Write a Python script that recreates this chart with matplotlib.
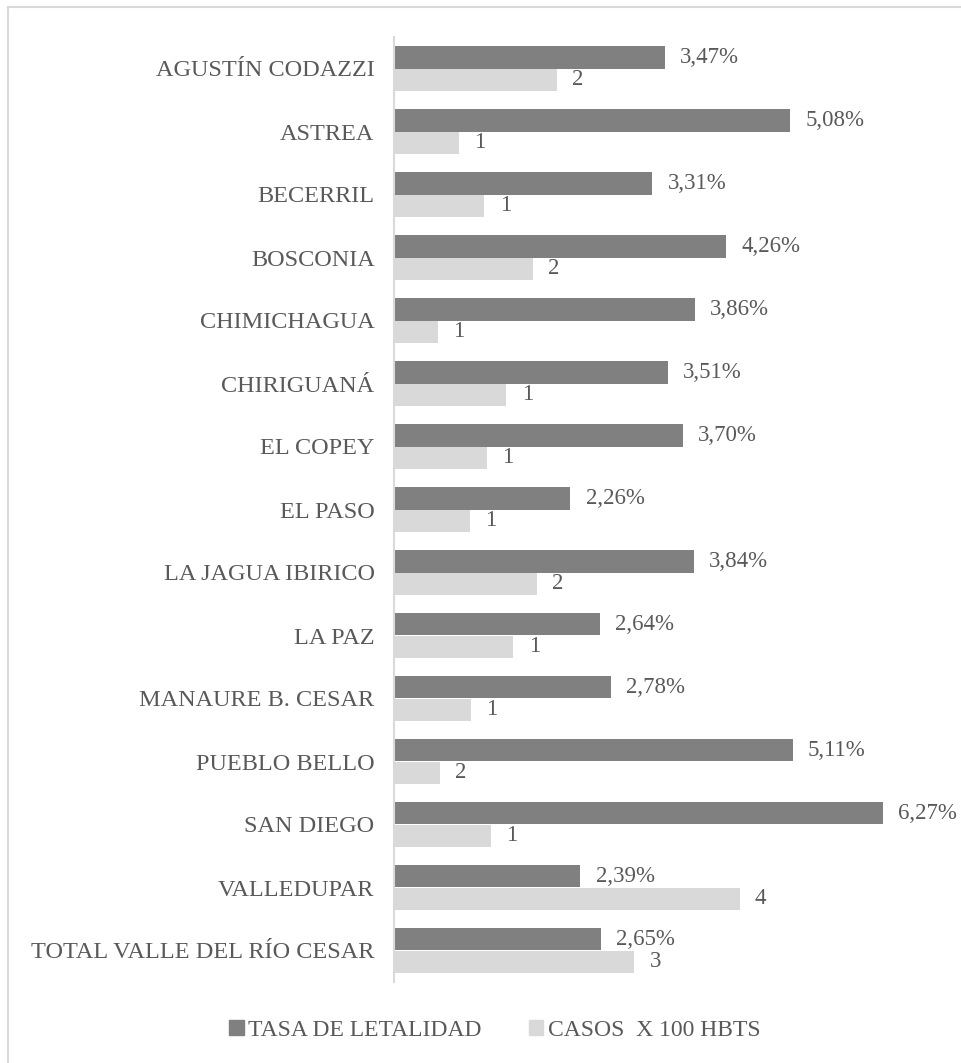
import matplotlib
matplotlib.use('Agg')
import matplotlib.pyplot as plt
from matplotlib.patches import Patch
import numpy as np

plt.rcParams['font.family'] = ['Liberation Serif', 'DejaVu Serif']

municipios = ['AGUSTÍN CODAZZI', 'ASTREA', 'BECERRIL', 'BOSCONIA', 'CHIMICHAGUA',
              'CHIRIGUANÁ', 'EL COPEY', 'EL PASO', 'LA JAGUA IBIRICO', 'LA PAZ',
              'MANAURE B. CESAR', 'PUEBLO BELLO', 'SAN DIEGO', 'VALLEDUPAR',
              'TOTAL VALLE DEL RÍO CESAR']

tasa = [3.47, 5.08, 3.31, 4.26, 3.86, 3.51, 3.70, 2.26, 3.84, 2.64, 2.78, 5.11, 6.27, 2.39, 2.65]
tasa_labels = ['3,47%', '5,08%', '3,31%', '4,26%', '3,86%', '3,51%', '3,70%', '2,26%',
               '3,84%', '2,64%', '2,78%', '5,11%', '6,27%', '2,39%', '2,65%']

casos = [2.09, 0.83, 1.16, 1.78, 0.56, 1.44, 1.19, 0.97, 1.83, 1.53, 0.99, 0.59, 1.24, 4.43, 3.08]
casos_labels = ['2', '1', '1', '2', '1', '1', '1', '1', '2', '1', '1', '2', '1', '4', '3']

dark = '#808080'
light = '#D9D9D9'
txt = '#595959'
W, H = 961, 1063

fig = plt.figure(figsize=(W / 100, H / 100), dpi=100)

# outer chart frame (left + top edges visible)
fig.add_artist(plt.Line2D([8 / W, 8 / W], [0, 1 - 7 / H], color=light, lw=1.5))
fig.add_artist(plt.Line2D([8 / W, 1], [1 - 7 / H, 1 - 7 / H], color=light, lw=1.5))

ax = fig.add_axes([394 / W, 1 - 982 / H, (940 - 394) / W, (982 - 37) / H])

y = np.arange(len(municipios))
h = 0.35
ax.barh(y - h / 2, tasa, height=h, color=dark, label='TASA DE LETALIDAD')
ax.barh(y + h / 2, casos, height=h, color=light, label='CASOS  X 100 HBTS')

for i in range(len(municipios)):
    ax.annotate(tasa_labels[i], (tasa[i], y[i] - h / 2), xytext=(11, 0),
                textcoords='offset points', va='center', ha='left',
                fontsize=16.5, color=txt)
    ax.annotate(casos_labels[i], (casos[i], y[i] + h / 2), xytext=(11, 0),
                textcoords='offset points', va='center', ha='left',
                fontsize=16.5, color=txt)

ax.set_xlim(0, 7)
ax.set_ylim(len(municipios) - 0.5, -0.5)
ax.set_yticks(y)
ax.set_yticklabels(municipios, fontsize=17.5, color=txt)
ax.tick_params(axis='y', length=0, pad=14)
ax.set_xticks([])
for s in ['top', 'right', 'bottom']:
    ax.spines[s].set_visible(False)
ax.spines['left'].set_color(light)
ax.spines['left'].set_linewidth(1.5)

handles = [Patch(color=dark), Patch(color=light)]
fig.legend(handles, ['TASA DE LETALIDAD', 'CASOS  X 100 HBTS'], loc='center',
           bbox_to_anchor=(495 / W, 1 - 1030 / H), ncol=2, frameon=False,
           handlelength=0.6, handleheight=0.6, handletextpad=0.2,
           columnspacing=2.0, prop={'size': 17}, labelcolor=txt)

plt.savefig('out.png', dpi=100)
